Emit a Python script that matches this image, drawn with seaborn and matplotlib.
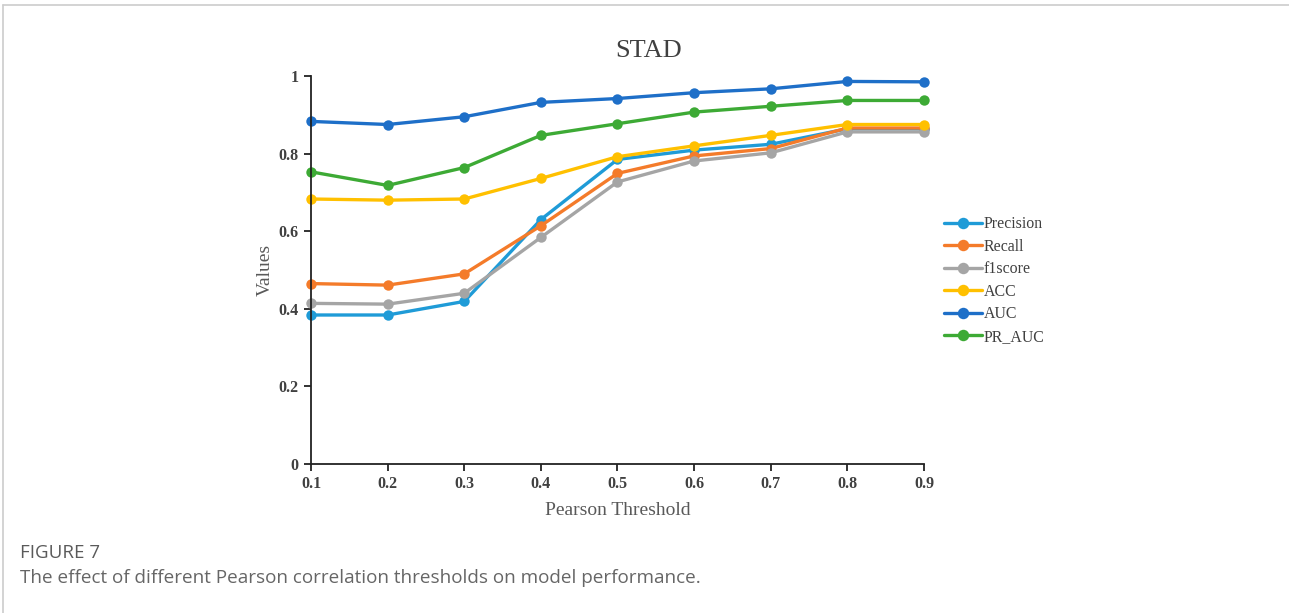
import matplotlib
matplotlib.use("Agg")
import numpy as np
import matplotlib.pyplot as plt
import pandas as pd
import seaborn as sns
from matplotlib.lines import Line2D

# Data
thresholds = [0.1, 0.2, 0.3, 0.4, 0.5, 0.6, 0.7, 0.8, 0.9]
precision = [0.384, 0.384, 0.419, 0.630, 0.785, 0.809, 0.824, 0.864, 0.864]
recall = [0.465, 0.461, 0.490, 0.614, 0.749, 0.794, 0.813, 0.866, 0.866]
f1score = [0.414, 0.412, 0.440, 0.584, 0.727, 0.781, 0.802, 0.856, 0.856]
acc = [0.683, 0.680, 0.683, 0.736, 0.792, 0.820, 0.847, 0.875, 0.875]
auc = [0.883, 0.875, 0.895, 0.932, 0.942, 0.957, 0.967, 0.986, 0.985]
pr_auc = [0.753, 0.718, 0.764, 0.847, 0.877, 0.907, 0.922, 0.937, 0.937]

metrics = ['Precision', 'Recall', 'f1score', 'ACC', 'AUC', 'PR_AUC']
colors = ['#1F9BD7', '#F47B2A', '#A5A5A5', '#FFC000', '#1E6FC8', '#3DAA35']
series = [precision, recall, f1score, acc, auc, pr_auc]

# long-form table for seaborn
df = pd.DataFrame({
    'Threshold': thresholds * len(metrics),
    'Value': np.concatenate(series),
    'Metric': np.repeat(metrics, len(thresholds)),
})

sns.set_theme(style='white')
plt.rcParams['font.family'] = ['Liberation Serif', 'DejaVu Serif']

fig = plt.figure(figsize=(12.89, 6.13), dpi=100)
ax = fig.add_axes([0.2413, 0.2431, 0.4755, 0.6329])

sns.lineplot(data=df, x='Threshold', y='Value', hue='Metric',
             palette=dict(zip(metrics, colors)), hue_order=metrics,
             marker='o', markersize=7.5, markeredgewidth=0, linewidth=2.4,
             ax=ax)
for ln in ax.lines:
    ln.set_clip_on(False)

ax.set_xlim(0.1, 0.9)
ax.set_ylim(0, 1)
ax.set_xticks(thresholds)
ax.set_xticklabels([f'{t:.1f}' for t in thresholds])
ax.set_yticks([0, 0.2, 0.4, 0.6, 0.8, 1])
ax.set_yticklabels(['0', '0.2', '0.4', '0.6', '0.8', '1'])
for s in ['top', 'right']:
    ax.spines[s].set_visible(False)
for s in ['left', 'bottom']:
    ax.spines[s].set_color('#222222')
    ax.spines[s].set_linewidth(1.3)
ax.tick_params(axis='both', bottom=True, left=True, direction='out', length=5,
               width=1.3, color='#222222', labelsize=11.5, labelcolor='#404040',
               pad=4)
for lab in ax.get_xticklabels() + ax.get_yticklabels():
    lab.set_fontweight('bold')

ax.set_xlabel('Pearson Threshold', fontsize=14, color='#595959', labelpad=7)
ax.set_ylabel('Values', fontsize=14, color='#595959', labelpad=3)
ax.set_title('STAD', fontsize=19, color='#404040', pad=14, x=0.55)

leg = ax.legend(loc='upper left', bbox_to_anchor=(1.022, 0.655), frameon=False,
                fontsize=11.4, handlelength=2.4, handletextpad=0.1,
                labelspacing=0.41, borderaxespad=0, markerscale=1.1)
for t in leg.get_texts():
    t.set_color('#404040')

# card frame and caption
fig.add_artist(Line2D([0.0023, 1], [0.992, 0.992], color='#CCCCCC', lw=1.2))
fig.add_artist(Line2D([0.0023, 0.0023], [0, 0.992], color='#CCCCCC', lw=1.2))
fig.text(0.0155, 0.098, 'FIGURE 7', fontsize=13.5, color='#5A5A5A',
         family=['Open Sans', 'DejaVu Sans'], va='center')
fig.text(0.0155, 0.057,
         'The effect of different Pearson correlation thresholds on model performance.',
         fontsize=13.6, color='#666666', family=['Open Sans', 'DejaVu Sans'],
         va='center')

fig.savefig('out.png', dpi=100)
